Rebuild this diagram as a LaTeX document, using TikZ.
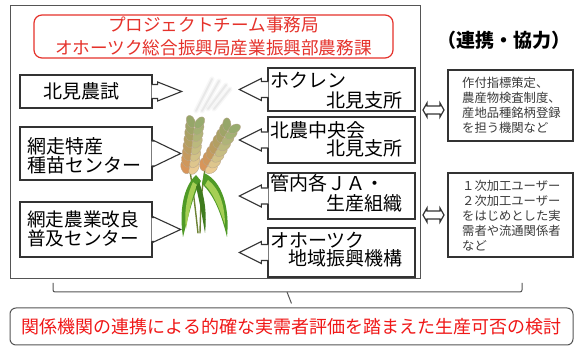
\documentclass[tikz,border=0pt]{standalone}
\usepackage{fontspec}
\setmainfont{Noto Sans CJK JP}

\definecolor{titlered}{HTML}{E5322B}
\definecolor{evalred}{HTML}{F01818}
\definecolor{boxline}{HTML}{333333}
\definecolor{framegray}{HTML}{555555}
\definecolor{infotext}{HTML}{3A3A3A}
\definecolor{wheattan}{HTML}{D8955A}
\definecolor{wheatpale}{HTML}{EACB92}
\definecolor{wheatgreen}{HTML}{8FA86A}
\definecolor{wheatdark}{HTML}{8A6A40}
\definecolor{leafgreen}{HTML}{4F9A26}
\definecolor{leaflight}{HTML}{A6CF55}

\tikzset{
  orgbox/.style={draw=boxline, line width=1.3pt, fill=white, inner sep=0pt},
  orgtext/.style={inner sep=0pt, font=\fontsize{19}{20}\selectfont, text=black},
  infobox/.style={draw=boxline, line width=1.3pt, fill=white, inner sep=0pt},
  infotxt/.style={inner sep=0pt, align=left, text=infotext,
    font=\fontsize{12.3}{15}\selectfont},
  blockarrow/.style={draw=boxline, line width=1.1pt, fill=white, line join=miter},
  linkarrow/.style={draw=boxline, line width=1.2pt, fill=white, line join=miter},
}

% open block arrow leaving the east side of a box: node, stem half, head half, stem length, head length
\newcommand\eastarrow[5]{%
  \path[blockarrow] ([shift={(-1,#2)}]#1.east) -- ++(#4+1,0) -- ++(0,#3-#2)
    -- ++(#5,-#3) -- ++(-#5,-#3) -- ++(0,#3-#2) -- ++(-#4-1,0);}
% the same, leaving the west side of a box
\newcommand\westarrow[5]{%
  \path[blockarrow] ([shift={(1,#2)}]#1.west) -- ++(-#4-1,0) -- ++(0,#3-#2)
    -- ++(-#5,-#3) -- ++(#5,-#3) -- ++(0,#3-#2) -- ++(#4+1,0);}
% hollow two-headed arrow around a coordinate
\newcommand\linkarrow[1]{%
  \path[linkarrow, shift={(#1)}] (-10.5,0) -- (-6.5,7) -- (-6.5,4) -- (6.5,4) -- (6.5,7)
    -- (10.5,0) -- (6.5,-7) -- (6.5,-4) -- (-6.5,-4) -- (-6.5,-7) -- cycle;}
% one ear of wheat: base x, base y, angle
\newcommand\wheatear[3]{%
  \begin{scope}[shift={(#1,#2)}, rotate=#3]
    \foreach \i in {0,...,7}{
      \pgfmathtruncatemacro\p{max(0,100-\i*13)}
      \fill[wheattan!\p!wheatgreen, draw=wheatdark!60, line width=0.35pt,
            shift={(\i*6.6+5,4.4)}, rotate=30] (0,0) ellipse [x radius=6.6, y radius=4.1];
      \fill[wheatpale!\p!wheatgreen, draw=wheatdark!60, line width=0.35pt,
            shift={(\i*6.6+5,-4.4)}, rotate=-30] (0,0) ellipse [x radius=6.6, y radius=4.1];
    }
  \end{scope}}

\begin{document}
\begin{tikzpicture}[x=1pt, y=1pt]
  \useasboundingbox (0,0) rectangle (579,347);
  \fill[white] (0,0) rectangle (579,347);

  % surrounding frame and project office
  \node[draw=framegray, line width=1pt, minimum width=410pt, minimum height=273pt, inner sep=0pt]
    (frame) at (215,204.5) {};
  \node[draw=titlered, line width=1.2pt, rounded corners=8pt, fill=white,
        minimum width=359pt, minimum height=43pt, inner sep=0pt, align=center,
        text=titlered, font=\fontsize{17.6}{23}\selectfont]
    (office) at (213.5,310.5) {プロジェクトチーム事務局\\オホーツク総合振興局産業振興部農務課};

  % research and extension bodies (left)
  \node[orgbox, minimum width=132pt, minimum height=33pt] (l1) at (86,255.5) {};
  \node[orgtext] (l1t) at (81,255.5) {北見農試};
  \node[orgbox, minimum width=132pt, minimum height=53pt] (l2) at (86,193.5) {};
  \node[orgtext, anchor=west, align=left, font=\fontsize{19}{19}\selectfont]
    (l2t) at (27,191) {網走特産\\種苗センター};
  \node[orgbox, minimum width=132pt, minimum height=55pt] (l3) at (86,117.5) {};
  \node[orgtext, anchor=west, align=left, font=\fontsize{18.6}{18.5}\selectfont]
    (l3t) at (27,118) {網走農業改良\\普及センター};

  % producer side bodies (right)
  \node[orgbox, minimum width=147pt, minimum height=43pt] (r1) at (341.5,257.5) {};
  \node[orgtext, anchor=west] (r1a) at (270,267) {ホクレン};
  \node[orgtext, anchor=east] (r1b) at (403,247) {北見支所};
  \node[orgbox, minimum width=147pt, minimum height=46pt] (r2) at (341.5,207) {};
  \node[orgtext, anchor=west] (r2a) at (270,217) {北農中央会};
  \node[orgtext, anchor=east] (r2b) at (403,199) {北見支所};
  \node[orgbox, minimum width=147pt, minimum height=46pt] (r3) at (341.5,151) {};
  \node[orgtext, anchor=west] (r3a) at (270,164) {管内各ＪＡ・};
  \node[orgtext, anchor=east] (r3b) at (403,144) {生産組織};
  \node[orgbox, minimum width=147pt, minimum height=49pt] (r4) at (341.5,94.5) {};
  \node[orgtext, anchor=west] (r4a) at (270,107) {オホーツク};
  \node[orgtext, anchor=east] (r4b) at (403,89) {地域振興機構};

  % arrows towards the crop
  \eastarrow{l1}{7}{9.5}{5}{24}
  \eastarrow{l2}{12.5}{13}{1}{27}
  \eastarrow{l3}{12}{12.5}{1}{27}
  \westarrow{r1}{8}{11}{6}{22}
  \westarrow{r2}{8}{11}{6}{22}
  \westarrow{r3}{8}{11}{6}{22}
  \westarrow{r4}{8}{11}{6}{22}

  % wheat plant: hazy awns, stems, leaves, ears
  \begin{scope}[line cap=round]
    \foreach \x/\y/\u/\v in {196/236/212/268, 202/236/219/266, 208/238/226/262, 214/238/230/258}{
      \draw[gray, line width=5pt, opacity=0.06] (\x,\y) -- (\u,\v);
      \draw[gray, line width=2pt, opacity=0.12] (\x,\y) -- (\u,\v);
    }
    \draw[wheatdark!50!leafgreen, line width=1.4pt] (190,176) .. controls (194,150) .. (198,114);
    \draw[wheatdark!50!leafgreen, line width=1.4pt] (205,178) .. controls (201,150) .. (200,114);
    \fill[leafgreen] (196,172) .. controls (183,160) and (179,135) .. (183,110)
      .. controls (189,133) and (193,152) .. (201,166) -- cycle;
    \fill[leaflight] (193,165) .. controls (186,150) and (184,132) .. (186,118)
      .. controls (189,135) and (192,150) .. (197,162) -- cycle;
    \fill[leafgreen] (204,174) .. controls (222,166) and (230,140) .. (227,110)
      .. controls (221,134) and (214,152) .. (202,163) -- cycle;
    \fill[leaflight] (208,167) .. controls (220,158) and (225,140) .. (225,122)
      .. controls (219,140) and (213,154) .. (205,162) -- cycle;
    \fill[leafgreen!80!black] (199,165) .. controls (205,150) and (207,132) .. (205,114)
      .. controls (202,132) and (199,148) .. (196,160) -- cycle;
  \end{scope}
  \wheatear{189}{174}{83}
  \wheatear{205}{176}{60}

  % partner bodies
  \node[font=\fontsize{19}{19}\selectfont\bfseries, inner sep=0pt] (partner) at (504,307) {（連携・協力）};
  \node[infobox, minimum width=125pt, minimum height=71pt] (i1) at (510.5,241.5) {};
  \node[infotxt, anchor=west] (i1t) at (462,241.5)
    {作付指標策定、\\農産物検査制度、\\産地品種銘柄登録\\を担う機関など};
  \node[infobox, minimum width=125pt, minimum height=84pt] (i2) at (510.5,132) {};
  \node[infotxt, anchor=west] (i2t) at (462,131)
    {１次加工ユーザー\\２次加工ユーザー\\をはじめとした実\\需者や流通関係者\\など};
  \coordinate (d1) at (433.5,237);
  \coordinate (d2) at (433.5,132);
  \linkarrow{d1}
  \linkarrow{d2}

  % joint evaluation
  \node[draw=framegray, line width=1pt, rounded corners=6pt, fill=white,
        minimum width=563pt, minimum height=37pt, inner sep=0pt,
        text=evalred, font=\fontsize{18}{18}\selectfont]
    (eval) at (291.5,20.5) {関係機関の連携による的確な実需者評価を踏まえた生産可否の検討};
  \coordinate (brL) at (53,64);
  \coordinate (brM) at (287,55);
  \coordinate (brR) at (522,64);
  \draw[framegray, line width=1pt, rounded corners=2pt] (brL) -- (53,55) -- (522,55) -- (brR);
  \draw[framegray, line width=1pt] (brM) -- ([yshift=4pt]eval.north);
\end{tikzpicture}
\end{document}
